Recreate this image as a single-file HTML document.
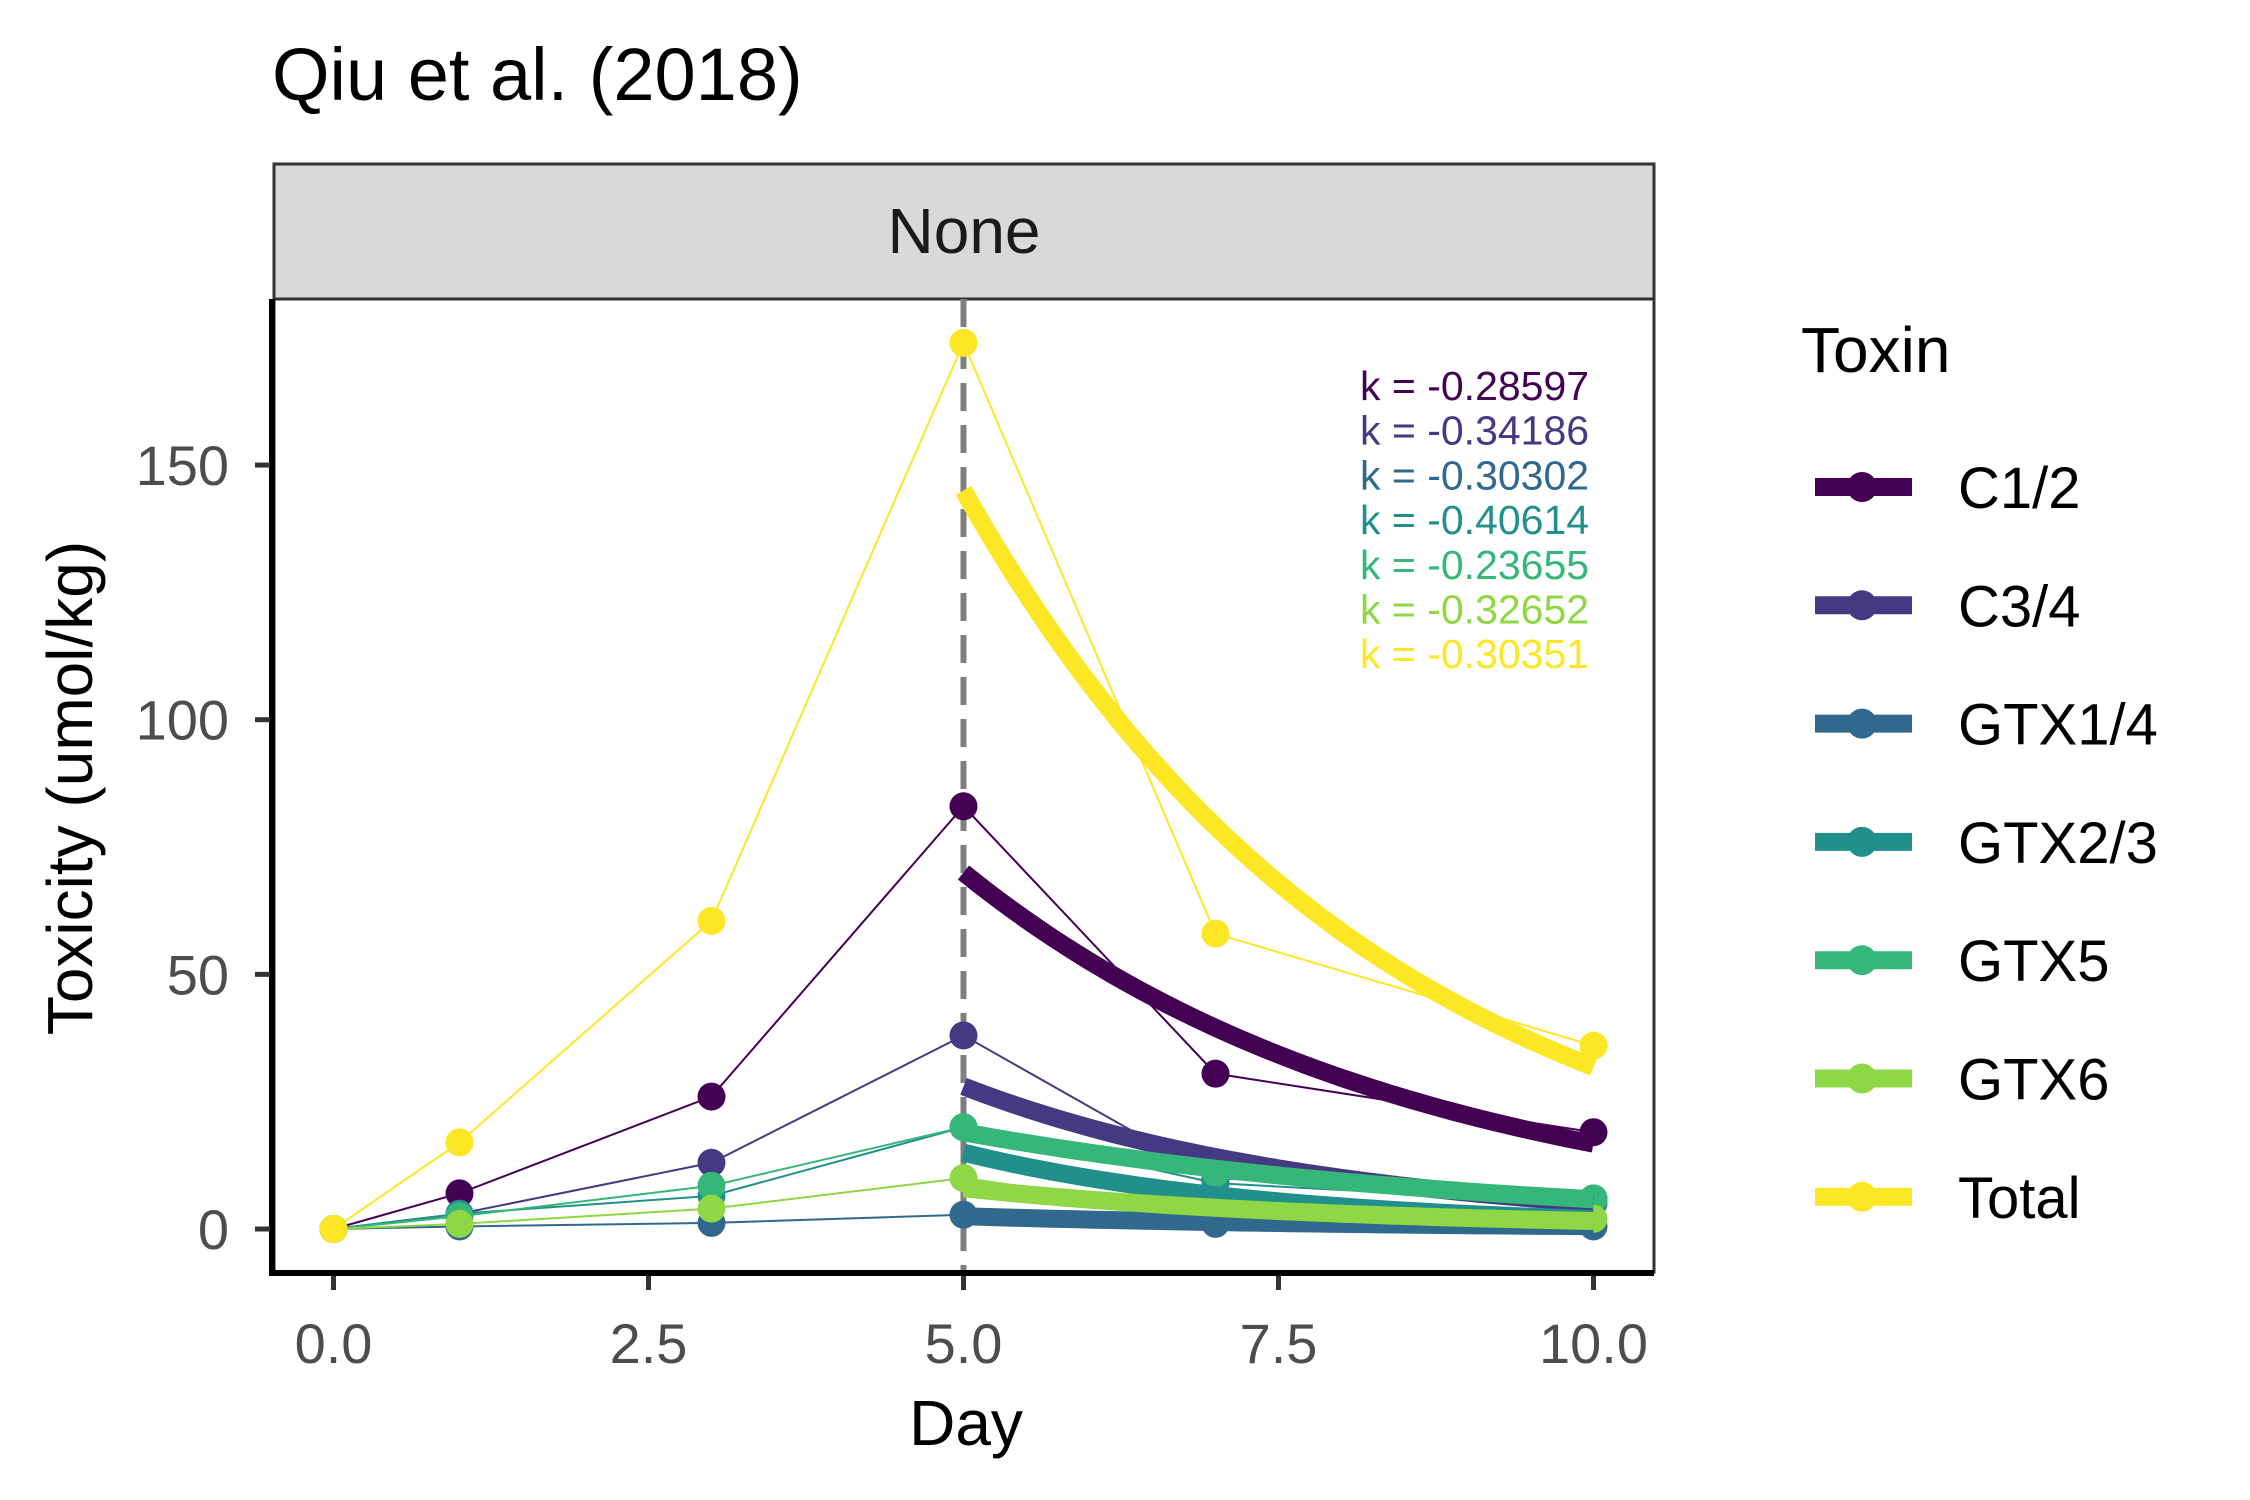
<!DOCTYPE html>
<html><head><meta charset="utf-8"><style>
html,body{margin:0;padding:0;background:#fff}
svg{display:block;font-family:"Liberation Sans",sans-serif}
</style></head><body>
<svg id="chart" width="2250" height="1500" viewBox="0 0 2250 1500" xmlns="http://www.w3.org/2000/svg">
<text x="272" y="100" font-size="74" fill="#000">Qiu et al. (2018)</text>
<rect x="274" y="164" width="1380" height="135" fill="#d9d9d9" stroke="#333" stroke-width="3"/>
<text x="964" y="253" font-size="64" text-anchor="middle" fill="#1a1a1a">None</text>
<rect x="274" y="299" width="1380" height="973" fill="#fff" stroke="#333" stroke-width="3"/>
<g id="plot"></g>
<line x1="272" y1="299" x2="272" y2="1275" stroke="#000" stroke-width="6"/>
<line x1="269" y1="1273" x2="1654" y2="1273" stroke="#000" stroke-width="6"/>
<text x="966" y="1445" font-size="64" text-anchor="middle" fill="#000">Day</text>
<text transform="translate(92,788) rotate(-90)" font-size="64" text-anchor="middle" fill="#000">Toxicity (umol/kg)</text>
<text x="1801" y="372" font-size="64" fill="#000">Toxin</text>
<g id="legend"></g>
</svg>
<script>
const days = [0, 1, 3, 5, 7, 10];
const toxins = ["C1/2", "C3/4", "GTX1/4", "GTX2/3", "GTX5", "GTX6", "Total"];
const colors = ["#440154", "#443A83", "#31688E", "#21908C", "#35B779", "#8FD744", "#FDE725"];
const valsC12 = [0, 7, 26, 83, 30.5, 19];
const valsC34 = [0, 3, 13, 38, 10, 6];
const valsGTX14 = [0, 0.5, 1.2, 2.8, 1, 0.5];
const valsGTX23 = [0, 3, 6.5, 20, 9, 5];
const valsGTX5 = [0, 2.5, 8.5, 20, 11, 6];
const valsGTX6 = [0, 1, 4, 10, 3, 2];
const valsTotal = [0, 17, 60.5, 174, 58, 36];
const fitStart = [70, 28, 2.5, 15, 19, 8, 145];
const kValues = [-0.28597, -0.34186, -0.30302, -0.40614, -0.23655, -0.32652, -0.30351];
const xTicks = [0, 2.5, 5, 7.5, 10];
const xTickLabels = ["0.0", "2.5", "5.0", "7.5", "10.0"];
const yTicks = [0, 50, 100, 150];
const yTickLabels = ["0", "50", "100", "150"];
const series = [valsC12, valsC34, valsGTX14, valsGTX23, valsGTX5, valsGTX6, valsTotal];

const NS = "http://www.w3.org/2000/svg";
const X = d => 333.5 + d * 126.0;
const Y = v => 1229 - v * 5.093;
const plot = document.getElementById("plot");
const svg = document.getElementById("chart");
function mk(tag, attrs, parent) {
  const e = document.createElementNS(NS, tag);
  for (const k in attrs) e.setAttribute(k, attrs[k]);
  parent.appendChild(e);
  return e;
}
xTicks.forEach((t, i) => {
  const l = mk("line", {x1: X(t), x2: X(t), y1: 1276, y2: 1290, stroke: "#333", "stroke-width": 5}, svg);
  
  
  const tx = mk("text", {x: X(t), y: 1363, "font-size": 56, "text-anchor": "middle", fill: "#4d4d4d"}, svg);
  tx.textContent = xTickLabels[i];
  
  
});
yTicks.forEach((t, i) => {
  const l = mk("line", {x1: 255, x2: 270, y1: Y(t), y2: Y(t), stroke: "#333", "stroke-width": 5}, svg);
  
  
  const tx = mk("text", {x: 229, y: Y(t) + 20, "font-size": 56, "text-anchor": "end", fill: "#4d4d4d"}, svg);
  tx.textContent = yTickLabels[i];
  
  
});
const dl = mk("line", {x1: X(5), x2: X(5), y1: 299, y2: 1272, stroke: "#7f7f7f", "stroke-width": 6, "stroke-dasharray": "28,14"}, plot);


series.forEach((vals, si) => {
  const pl = mk("polyline", {points: vals.map((v, i) => X(days[i]) + "," + Y(v)).join(" "), fill: "none", stroke: colors[si], "stroke-width": 2}, plot);
  
  
});
series.forEach((vals, si) => {
  vals.forEach((v, i) => {
    const c = mk("circle", {cx: X(days[i]), cy: Y(v), r: 14, fill: colors[si]}, plot);
    
    
  });
});
series.forEach((vals, si) => {
  const pts = [];
  for (let t = 5; t <= 10.0001; t += 0.1) pts.push(X(t) + "," + Y(fitStart[si] * Math.exp(kValues[si] * (t - 5))));
  const fl = mk("polyline", {points: pts.join(" "), fill: "none", stroke: colors[si], "stroke-width": 18}, plot);
  
  
});
kValues.forEach((k, i) => {
  const t = mk("text", {x: 1360, y: 400 + i * 44.7, "font-size": 41, fill: colors[i]}, plot);
  t.textContent = "k = " + k.toFixed(5);
  
  
});
const lg = document.getElementById("legend");
toxins.forEach((name, i) => {
  const y = 487 + i * 118.3;
  const g = mk("g", {}, lg);
  
  
  mk("line", {x1: 1815, x2: 1912, y1: y, y2: y, stroke: colors[i], "stroke-width": 18}, g);
  mk("circle", {cx: 1862, cy: y, r: 15, fill: colors[i]}, g);
  const t = mk("text", {x: 1958, y: y + 21, "font-size": 58, fill: "#000"}, g);
  t.textContent = name;
});
</script>
</body></html>
